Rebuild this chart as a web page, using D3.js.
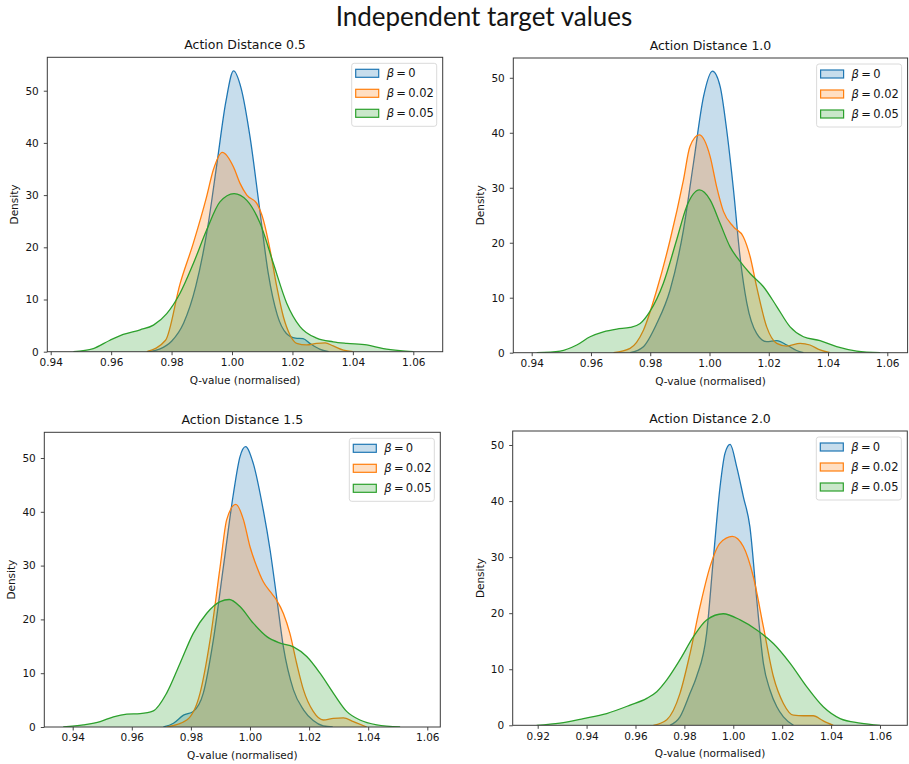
<!DOCTYPE html>
<html>
<head>
<meta charset="utf-8">
<script src="https://cdn.jsdelivr.net/npm/d3@7/dist/d3.min.js"></script>
<style>
  html, body { margin: 0; padding: 0; background: #fff; }
  svg { display: block; }
  .tick text { font-family: "DejaVu Sans", sans-serif; font-size: 10.5px; fill: #141414; }
</style>
</head>
<body>
<svg id="chart" width="909" height="764"></svg>
<script>
// ---- Data: KDE density curves of normalised Q-values, one set per action distance ----
const figureTitle = "Independent target values";
const panelTitles = ["Action Distance 0.5", "Action Distance 1.0", "Action Distance 1.5", "Action Distance 2.0"];
const betaLabels = ["0", "0.02", "0.05"];
const seriesColors = ["#1f77b4", "#ff7f0e", "#2ca02c"];
const yTicks = [0, 10, 20, 30, 40, 50];
const xTicksA = [0.94, 0.96, 0.98, 1.00, 1.02, 1.04, 1.06];
const xTicksB = [0.92, 0.94, 0.96, 0.98, 1.00, 1.02, 1.04, 1.06];

// Action distance 0.5
const d05_beta0 = [[0.972,0],[0.976,0.5],[0.980,2],[0.984,5.5],[0.988,12.5],[0.992,24],[0.995,36],[0.998,48],[1.0005,53.8],[1.003,50.5],[1.006,41],[1.009,28],[1.012,15],[1.015,7],[1.018,3.5],[1.021,2.6],[1.0235,2.5],[1.026,1.5],[1.029,0.5],[1.032,0]];
const d05_beta002 = [[0.9718,0],[0.978,2.2],[0.9828,13],[0.9872,20.8],[0.9916,29.7],[0.9938,34.8],[0.9968,38.2],[1.0005,35.4],[1.0027,32.2],[1.0049,30],[1.0082,28.4],[1.0104,25.2],[1.0126,19.5],[1.0148,12.5],[1.017,6.7],[1.0192,3.2],[1.0214,1.6],[1.0247,1.3],[1.028,1.6],[1.0308,1.7],[1.0335,1.1],[1.0369,0.3],[1.04,0]];
const d05_beta005 = [[0.9475,0],[0.9541,0.6],[0.9596,2.2],[0.964,3.3],[0.9696,4.2],[0.974,5.1],[0.9784,7.3],[0.9828,11.2],[0.9872,16.9],[0.9916,23.3],[0.996,28.7],[1.0007,30.3],[1.0049,29],[1.0093,24.6],[1.0137,16.9],[1.0181,9.3],[1.0225,4.8],[1.028,2.6],[1.0335,1.9],[1.038,1.6],[1.0446,1.3],[1.0501,0.6],[1.0556,0.2],[1.06,0]];

// Action distance 1.0
const d10_beta0 = [[0.9732,0],[0.9777,1.1],[0.9822,5.3],[0.9867,11.4],[0.9912,22.3],[0.9946,34.5],[0.998,46.6],[1.001,51.2],[1.0036,48.4],[1.0058,40.5],[1.0081,29.6],[1.0103,17.5],[1.0126,9],[1.0159,3.5],[1.0193,2],[1.0227,2.2],[1.0261,1.4],[1.0294,0.4],[1.0317,0]];
const d10_beta002 = [[0.9676,0],[0.9732,0.8],[0.9777,4.1],[0.9822,11.4],[0.9867,20.5],[0.9912,31.4],[0.9934,37.5],[0.9965,39.6],[1.0002,35.7],[1.0024,30.2],[1.0047,25.7],[1.0081,22.9],[1.0114,21.1],[1.0137,17.5],[1.0159,12],[1.0193,4.7],[1.0227,1.7],[1.0261,1.2],[1.0306,1.7],[1.0339,1.4],[1.0373,0.5],[1.0407,0]];
const d10_beta005 = [[0.9417,0],[0.9496,0.3],[0.9552,1.4],[0.9597,2.9],[0.9642,3.8],[0.9687,4.3],[0.9732,4.6],[0.9766,5.3],[0.9799,7.5],[0.9844,12.6],[0.9889,20.5],[0.9923,26.6],[0.9966,29.6],[1.0002,27.8],[1.0036,23.5],[1.0069,19.3],[1.0103,16.6],[1.0137,14.4],[1.0182,12],[1.0227,8.4],[1.0272,4.7],[1.0317,2.9],[1.0373,2.2],[1.0429,1.1],[1.0497,0.3],[1.0576,0]];

// Action distance 1.5
const d15_beta0 = [[0.9707,0],[0.9741,0.7],[0.9775,2.2],[0.9808,2.9],[0.9842,6.3],[0.9876,16.2],[0.991,29.8],[0.9944,43.4],[0.9966,50.2],[0.9985,52.1],[1.0011,49],[1.0045,40.3],[1.0068,32.9],[1.009,24.2],[1.0113,14.9],[1.0147,6.9],[1.0181,3.2],[1.0214,1.2],[1.0248,0.2],[1.028,0]];
const d15_beta002 = [[0.9718,0],[0.9786,1.3],[0.9831,6.3],[0.9865,16.2],[0.9899,29.8],[0.9921,38.5],[0.9952,41.4],[0.9978,38.5],[1.0,33.5],[1.0023,29.8],[1.0045,27],[1.0068,25.2],[1.009,23.6],[1.0113,21.1],[1.0135,17.4],[1.0158,11.8],[1.0181,6.9],[1.0214,2.9],[1.0248,1.3],[1.0282,1.6],[1.0316,1.7],[1.035,1],[1.0395,0]];
const d15_beta005 = [[0.9368,0],[0.9436,0.4],[0.9493,1],[0.9538,1.9],[0.9583,2.4],[0.9628,2.5],[0.9673,3],[0.9718,6.3],[0.9763,11.8],[0.9808,17.4],[0.9853,21.1],[0.9899,23.3],[0.993,23.7],[0.9966,22.4],[1.0011,19.3],[1.0057,16.8],[1.0102,15.6],[1.0147,14.9],[1.0192,13.1],[1.0237,10],[1.0282,6.3],[1.0327,2.9],[1.0372,1.3],[1.0429,0.4],[1.0508,0]];

// Action distance 2.0
const d20_beta0 = [[0.9741,0],[0.9782,1.5],[0.9823,5.7],[0.985,8.7],[0.9891,16.4],[0.9918,29.5],[0.9946,42.6],[0.9966,48.5],[0.9987,50.1],[1.0014,46.1],[1.0041,40.8],[1.0068,35.4],[1.0096,22.4],[1.0123,11.1],[1.015,6.3],[1.0178,3.3],[1.0205,1.5],[1.0246,0]];
const d20_beta002 = [[0.9673,0],[0.9728,1],[0.9782,5.7],[0.9823,12.8],[0.9864,21.2],[0.9905,28.3],[0.9946,32.5],[0.9996,33.7],[1.0041,31.9],[1.0082,26.5],[1.0123,17.6],[1.0164,8.7],[1.0205,3.9],[1.0246,1.8],[1.0287,1.7],[1.0327,1.7],[1.0368,0.8],[1.0409,0]];
const d20_beta005 = [[0.9196,0],[0.9291,0.4],[0.9387,1.2],[0.9482,2.1],[0.9578,3.6],[0.9646,4.8],[0.9687,6],[0.9728,8.1],[0.9782,11.7],[0.9837,15.8],[0.9891,18.8],[0.9959,19.9],[1.0028,18.8],[1.0096,17],[1.0164,14.6],[1.0232,11.1],[1.03,6.9],[1.0368,3.3],[1.0437,1.2],[1.0519,0.4],[1.06,0]];

const panelSeries = [
  [d05_beta0, d05_beta002, d05_beta005],
  [d10_beta0, d10_beta002, d10_beta005],
  [d15_beta0, d15_beta002, d15_beta005],
  [d20_beta0, d20_beta002, d20_beta005]
];

// ---- Layout: axes rectangles (pixels) and their data limits ----
const panels = [
  { x0: 47.3,  x1: 442.7, y0: 57.3,  y1: 351.7, xlim: [0.93887, 1.06973], ylim: [0, 56.4], xticks: xTicksA },
  { x0: 513.3, x1: 907.6, y0: 58.0,  y1: 352.7, xlim: [0.93379, 1.06685], ylim: [0, 53.6], xticks: xTicksA },
  { x0: 44.3,  x1: 440.3, y0: 432.3, y1: 727.0, xlim: [0.93039, 1.06440], ylim: [0, 54.78], xticks: xTicksA },
  { x0: 512.7, x1: 907.3, y0: 431.0, y1: 725.3, xlim: [0.90978, 1.07117], ylim: [0, 52.5], xticks: xTicksB }
];

const svg = d3.select("#chart");
const textFont = '"DejaVu Sans", sans-serif';

svg.append("text")
  .attr("x", 484).attr("y", 26)
  .attr("text-anchor", "middle")
  .attr("font-family", 'Lato, "Open Sans", sans-serif')
  .attr("font-size", 26)
  .attr("fill", "#141414")
  .text(figureTitle);

panels.forEach((p, i) => {
  const x = d3.scaleLinear().domain(p.xlim).range([p.x0, p.x1]);
  const y = d3.scaleLinear().domain(p.ylim).range([p.y1, p.y0]);
  const g = svg.append("g");

  const clipId = "clip" + i;
  g.append("clipPath").attr("id", clipId)
    .append("rect").attr("x", p.x0).attr("y", p.y0)
    .attr("width", p.x1 - p.x0).attr("height", p.y1 - p.y0);

  const area = d3.area()
    .x(d => x(d[0])).y0(y(0)).y1(d => y(d[1]))
    .curve(d3.curveMonotoneX);
  const line = d3.line()
    .x(d => x(d[0])).y(d => y(d[1]))
    .curve(d3.curveMonotoneX);

  const plot = g.append("g").attr("clip-path", `url(#${clipId})`);
  panelSeries[i].forEach((series, k) => {
    plot.append("path").datum(series)
      .attr("d", area)
      .attr("fill", seriesColors[k]).attr("fill-opacity", 0.25)
      .attr("stroke", "none");
    plot.append("path").datum(series)
      .attr("d", line)
      .attr("fill", "none")
      .attr("stroke", seriesColors[k]).attr("stroke-width", 1.3)
      .attr("stroke-linejoin", "round");
  });

  // axes
  const xAxis = d3.axisBottom(x).tickValues(p.xticks).tickFormat(d3.format(".2f"))
    .tickSize(3.5).tickPadding(3.5);
  const yAxis = d3.axisLeft(y).tickValues(yTicks).tickFormat(d3.format("d"))
    .tickSize(3.5).tickPadding(5);
  const gx = g.append("g").attr("transform", `translate(0,${p.y1})`).call(xAxis);
  const gy = g.append("g").attr("transform", `translate(${p.x0},0)`).call(yAxis);
  [gx, gy].forEach(a => {
    a.select(".domain").remove();
    a.selectAll(".tick line").attr("stroke", "#333").attr("stroke-width", 0.9);
  });

  // frame
  g.append("rect")
    .attr("x", p.x0).attr("y", p.y0)
    .attr("width", p.x1 - p.x0).attr("height", p.y1 - p.y0)
    .attr("fill", "none").attr("stroke", "#3a3a3a").attr("stroke-width", 1);

  // titles and axis labels
  g.append("text")
    .attr("x", (p.x0 + p.x1) / 2).attr("y", p.y0 - 8)
    .attr("text-anchor", "middle")
    .attr("font-family", textFont).attr("font-size", 12.5).attr("fill", "#141414")
    .text(panelTitles[i]);
  g.append("text")
    .attr("x", (p.x0 + p.x1) / 2).attr("y", p.y1 + 32)
    .attr("text-anchor", "middle")
    .attr("font-family", textFont).attr("font-size", 10.5).attr("fill", "#141414")
    .text("Q-value (normalised)");
  g.append("text")
    .attr("transform", `translate(${p.x0 - 29},${(p.y0 + p.y1) / 2}) rotate(-90)`)
    .attr("text-anchor", "middle")
    .attr("font-family", textFont).attr("font-size", 10.5).attr("fill", "#141414")
    .text("Density");

  // legend
  const lw = 85, lh = 63;
  const lx = p.x1 - 6 - lw, ly = p.y0 + 6;
  const leg = g.append("g").attr("transform", `translate(${lx},${ly})`);
  leg.append("rect")
    .attr("width", lw).attr("height", lh).attr("rx", 2.5)
    .attr("fill", "#fff").attr("fill-opacity", 0.85)
    .attr("stroke", "#d6d6d6").attr("stroke-width", 0.9);
  betaLabels.forEach((b, k) => {
    const cy = 10 + k * 20;
    leg.append("rect")
      .attr("x", 4).attr("y", cy - 4).attr("width", 23).attr("height", 8)
      .attr("fill", d3.color(seriesColors[k]).copy({ opacity: 0.25 }))
      .attr("stroke", seriesColors[k]).attr("stroke-width", 1.2);
    const t = leg.append("text")
      .attr("x", 35).attr("y", cy + 4)
      .attr("font-family", textFont).attr("font-size", 11.5).attr("fill", "#141414");
    t.append("tspan").attr("font-style", "italic").text("β");
    t.append("tspan").text("\u2009=\u2009" + b);
  });
});
</script>
</body>
</html>
